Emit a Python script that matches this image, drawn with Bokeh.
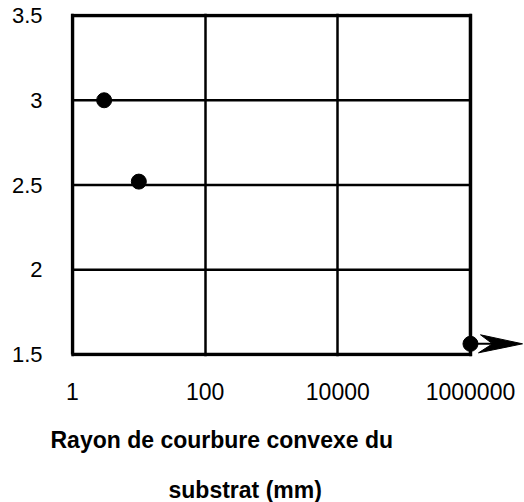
import numpy as np
from bokeh.plotting import figure
from bokeh.models import Range1d, FixedTicker, Title
from bokeh.embed import file_html
from bokeh.resources import INLINE

# ---- data ----
radius_mm = [3, 10, 1000000]
value = [3.0, 2.52, 1.563]
x_ticks = [1, 100, 10000, 1000000]
x_tick_labels = ["1", "100", "10000", "1000000"]
y_ticks = [1.5, 2, 2.5, 3, 3.5]
y_tick_labels = ["1.5", "2", "2.5", "3", "3.5"]
x_title_lines = ["Rayon de courbure convexe du", "substrat (mm)"]

# ---- geometry (pixels) ----
W, H = 524, 502
left_border, top_border = 70, 13
box_left_px = 72          # canvas px of x=1
per_dec = 66.33           # px per decade
per_unit = 169.5          # px per y unit
pad = 2                   # px of frame beyond the box

frame_w = W - left_border
frame_h = int(round(2 * per_unit + 2 * pad))
x_start = 10 ** (-pad / per_dec)
x_end = 10 ** ((W - box_left_px) / per_dec)
y_start = 1.5 - pad / per_unit
y_end = 3.5 + pad / per_unit

p = figure(width=W, height=H, x_axis_type="log",
           x_range=Range1d(x_start, x_end), y_range=Range1d(y_start, y_end),
           output_backend="svg", toolbar_location=None,
           min_border_left=left_border, min_border_top=top_border,
           min_border_right=0, min_border_bottom=H - top_border - frame_h,
           frame_width=frame_w, frame_height=frame_h)
p.outline_line_color = None
p.background_fill_color = "white"
p.border_fill_color = "white"

font = "Liberation Sans"
for ax in (p.xaxis[0], p.yaxis[0]):
    ax.axis_line_color = None
    ax.major_tick_line_color = None
    ax.minor_tick_line_color = None
    ax.major_label_text_font = font
    ax.major_label_text_color = "black"

p.xaxis[0].major_label_text_font_size = "23px"
p.yaxis[0].major_label_text_font_size = "22px"
p.xaxis[0].ticker = FixedTicker(ticks=x_ticks)
p.xaxis[0].major_label_overrides = dict(zip(x_ticks, x_tick_labels))
p.xaxis[0].major_label_standoff = 20
p.yaxis[0].ticker = FixedTicker(ticks=y_ticks)
p.yaxis[0].major_label_overrides = dict(zip(y_ticks, y_tick_labels))
p.yaxis[0].major_label_standoff = 22

p.xgrid[0].grid_line_color = "black"
p.xgrid[0].grid_line_width = 2.5
p.xgrid[0].minor_grid_line_color = None
p.ygrid[0].visible = False

# horizontal grid lines, only across the box
n = len(y_ticks)
p.segment(x0=[x_ticks[0]] * n, x1=[x_ticks[-1]] * n, y0=y_ticks, y1=y_ticks,
          line_color="black", line_width=2.5)

# plot box drawn from the tick extremes
bx = [x_ticks[0], x_ticks[-1], x_ticks[-1], x_ticks[0], x_ticks[0]]
by = [y_ticks[0], y_ticks[0], y_ticks[-1], y_ticks[-1], y_ticks[0]]
p.line(bx, by, line_color="black", line_width=3.5, line_join="miter")

# arrow from the last point (flat substrate -> infinity)
tip = np.log10(x_end) - 2 / per_dec
yy = value[-1]
p.line([radius_mm[-1], 10 ** (tip - 20 / per_dec)], [yy, yy], line_color="black", line_width=2)
head_x = [10 ** tip, 10 ** (tip - 42 / per_dec), 10 ** (tip - 30 / per_dec), 10 ** (tip - 44 / per_dec)]
head_y = [yy, yy + 9 / per_unit, yy, yy - 9 / per_unit]
p.patch(head_x, head_y, fill_color="black", line_color="black", line_width=1)

p.scatter(radius_mm, value, size=15, color="black")

# axis title (two lines) as titles below the x axis
offsets = [-20, 98]
standoffs = [44, 0]
for txt, off, so in zip(x_title_lines, offsets, standoffs):
    p.add_layout(Title(text=txt, align="left", offset=off, standoff=so,
                       text_font=font, text_font_style="bold", text_font_size="23px",
                       text_color="black"), "below")

open("out.html", "w").write(file_html(p, INLINE))
